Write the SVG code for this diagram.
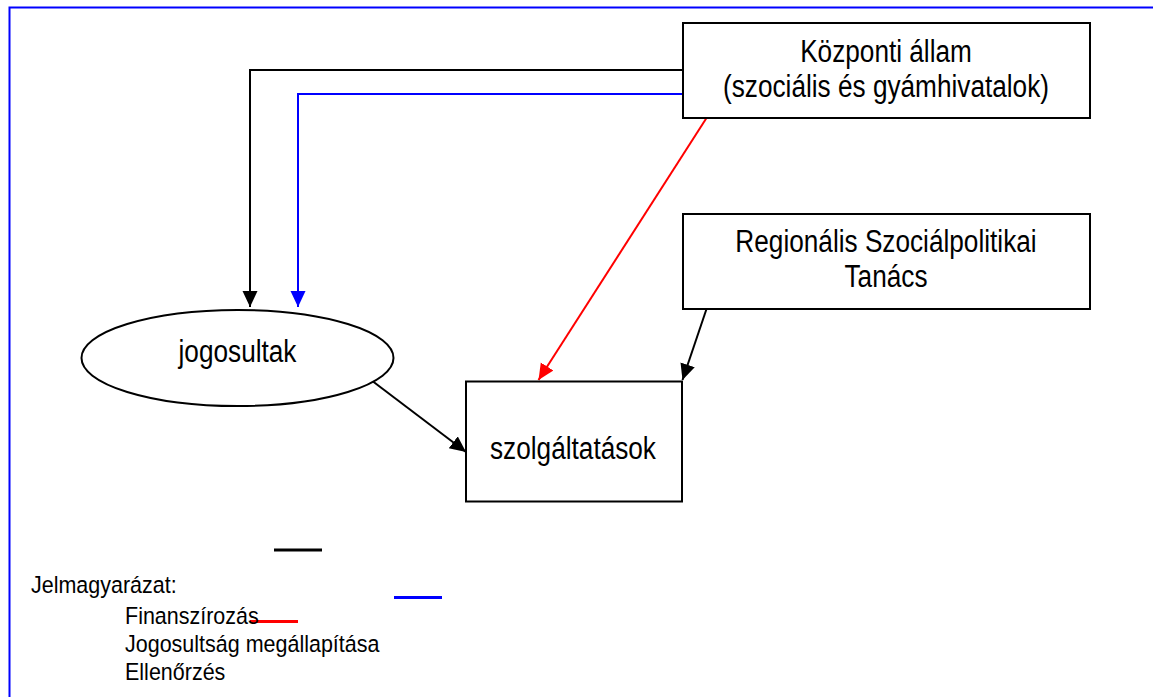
<svg xmlns="http://www.w3.org/2000/svg" width="1153" height="697" viewBox="0 0 1153 697">
<defs>
<style>
.node{fill:#fff;stroke:#000;stroke-width:2}
.t{font-family:"Liberation Sans",Arial,sans-serif;font-size:26.2px;fill:#000;text-anchor:middle}
.lg{font-family:"Liberation Sans",Arial,sans-serif;font-size:21.5px;fill:#000}
.c{fill:none;stroke-width:2}
</style>
<marker id="ak" markerUnits="userSpaceOnUse" markerWidth="17" markerHeight="17" refX="16" refY="7.5" orient="auto"><path d="M0,0 L16,7.5 L0,15 z" fill="#000"/></marker>
<marker id="ab" markerUnits="userSpaceOnUse" markerWidth="17" markerHeight="17" refX="16" refY="7.5" orient="auto"><path d="M0,0 L16,7.5 L0,15 z" fill="#00f"/></marker>
<marker id="ar" markerUnits="userSpaceOnUse" markerWidth="17" markerHeight="17" refX="16" refY="7.5" orient="auto"><path d="M0,0 L16,7.5 L0,15 z" fill="#f00"/></marker>
</defs>
<rect width="1153" height="697" fill="#fff"/>
<path d="M9.5,700 V7.5 H1160" fill="none" stroke="#00f" stroke-width="2"/>

<g id="connectors">
<path class="c" stroke="#000" d="M683,70 H250 V307" marker-end="url(#ak)"/>
<path class="c" stroke="#00f" d="M683,94 H298 V307" marker-end="url(#ab)"/>
<path class="c" stroke="#f00" d="M706.5,118 L538.5,380" marker-end="url(#ar)"/>
<path class="c" stroke="#000" d="M706.5,309 L682.5,380" marker-end="url(#ak)"/>
<path class="c" stroke="#000" d="M371,380 L466,452" marker-end="url(#ak)"/>
</g>

<g id="kozponti">
<rect class="node" x="683" y="23" width="407" height="95"/>
<text class="t" transform="translate(886,62) scale(1,1.2)">Központi állam</text>
<text class="t" transform="translate(886,97) scale(1,1.2)">(szociális és gyámhivatalok)</text>
</g>

<g id="regionalis">
<rect class="node" x="683" y="214" width="407" height="95"/>
<text class="t" transform="translate(886,252) scale(1,1.2)">Regionális Szociálpolitikai</text>
<text class="t" transform="translate(886,287) scale(1,1.2)">Tanács</text>
</g>

<g id="jogosultak">
<ellipse class="node" cx="237.5" cy="358" rx="156" ry="48"/>
<text class="t" transform="translate(237.5,362) scale(1,1.2)">jogosultak</text>
</g>

<g id="szolgaltatasok">
<rect class="node" x="466" y="381.5" width="216" height="120"/>
<text class="t" transform="translate(573,459) scale(1,1.2)">szolgáltatások</text>
</g>

<g id="legend">
<line x1="274" y1="550" x2="322" y2="550" stroke="#000" stroke-width="3"/>
<line x1="394" y1="597.5" x2="442" y2="597.5" stroke="#00f" stroke-width="3"/>
<line x1="250" y1="621.5" x2="298" y2="621.5" stroke="#f00" stroke-width="3"/>
<text class="lg" transform="translate(31,593) scale(1,1.12)">Jelmagyarázat:</text>
<text class="lg" transform="translate(125,624) scale(1,1.12)">Finanszírozás</text>
<text class="lg" transform="translate(125,652) scale(1,1.12)">Jogosultság megállapítása</text>
<text class="lg" transform="translate(125,680) scale(1,1.12)">Ellenőrzés</text>
</g>
</svg>
